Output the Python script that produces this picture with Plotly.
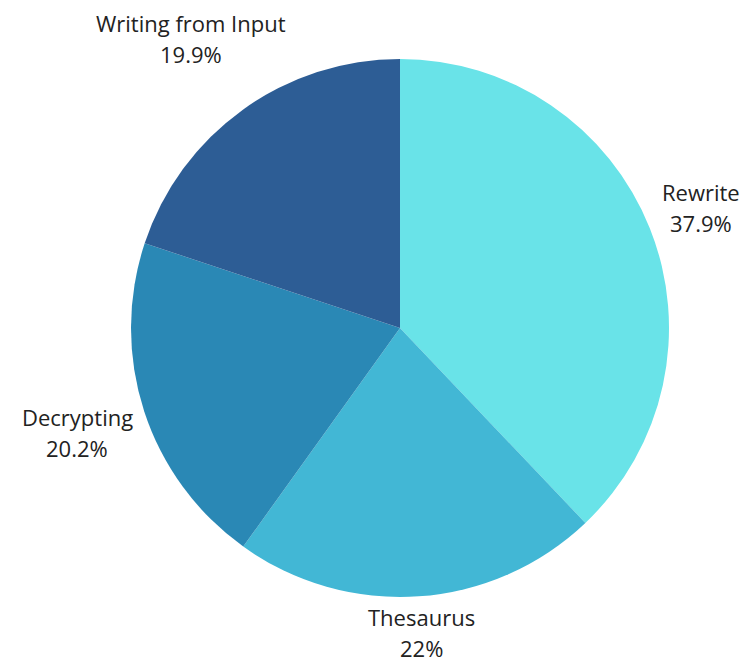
import math
import plotly.graph_objects as go

labels = ["Rewrite", "Thesaurus", "Decrypting", "Writing from Input"]
values = [37.9, 22.0, 20.2, 19.9]
colors = ["#69E3E8", "#42B7D5", "#2A88B5", "#2D5D95"]

W, H = 752, 664
ML, MR, MT, MB = 131, 83, 59, 67
PW, PH = W - ML - MR, H - MT - MB
CX, CY = ML + PW / 2, MT + PH / 2
R = min(PW, PH) / 2

fig = go.Figure(go.Pie(
    labels=labels,
    values=values,
    sort=False,
    direction="clockwise",
    rotation=0,
    marker=dict(colors=colors, line=dict(width=0)),
    textinfo="none",
    showlegend=False,
))

font = dict(family="Open Sans", size=22, color="#222222")
total = sum(values)
cum = 0.0
annotations = []
for lab, v in zip(labels, values):
    frac = v / total
    mid = (cum + frac / 2) * 2 * math.pi
    cum += frac
    sx, sy = math.sin(mid), -math.cos(mid)
    pct = f"{frac * 100:.1f}".rstrip("0").rstrip(".") + "%"
    hw = 0.5 * max(len(lab), len(pct)) * 11.3
    hh = 24
    d = R + 9 + hw * abs(sx) + hh * abs(sy)
    px, py = CX + d * sx, CY + d * sy
    xp = (px - ML) / PW
    yp = 1 - (py - MT) / PH
    for txt, shift in ((lab, 15.5), (pct, -15.5)):
        annotations.append(dict(
            x=xp, y=yp, xref="paper", yref="paper",
            text=txt, showarrow=False, font=font,
            xanchor="center", yanchor="middle", yshift=shift,
            borderpad=0,
        ))

fig.update_layout(
    width=W, height=H,
    margin=dict(l=ML, r=MR, t=MT, b=MB),
    paper_bgcolor="white",
    plot_bgcolor="white",
    annotations=annotations,
)
fig.write_html("out.html")
